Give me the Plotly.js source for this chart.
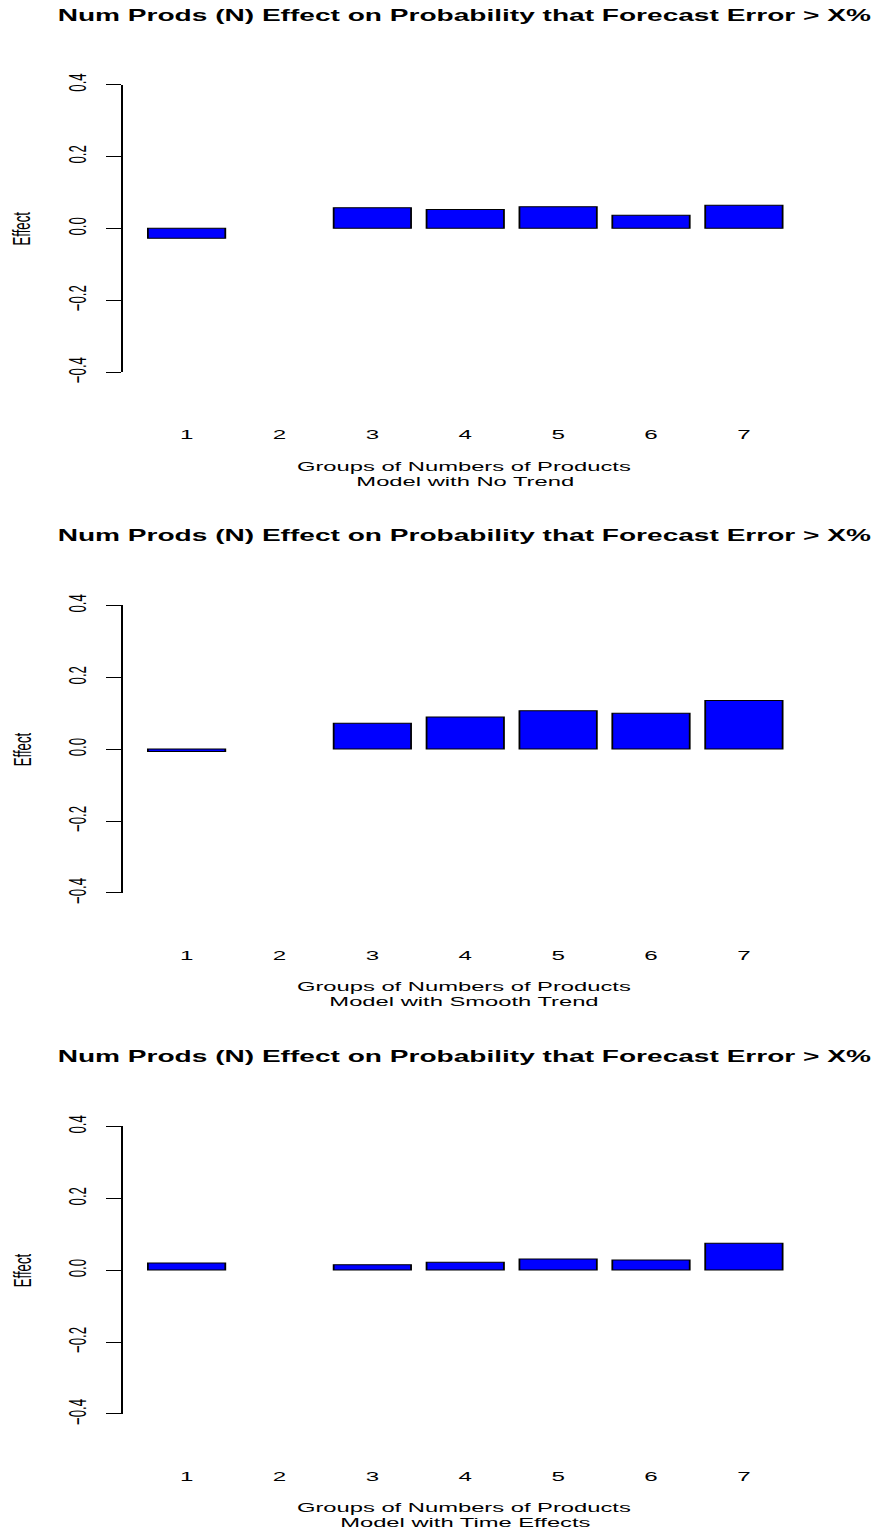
<!DOCTYPE html>
<html>
<head>
<meta charset="utf-8">
<script src="https://cdn.plot.ly/plotly-3.0.1.min.js"></script>
<style>
  html, body { margin: 0; padding: 0; background: #ffffff; overflow: hidden; }
  #wrap { width: 875px; height: 1538px; overflow: hidden; }
  /* the figure is laid out narrow and widened, giving the wide lettering of the plot */
  #chart { width: 486px; height: 1538px; transform: scaleX(1.8); transform-origin: 0 0; }
</style>
</head>
<body>
<div id="wrap"><div id="chart"></div></div>
<script>
// Groups of numbers of products (group 2 has no estimate)
const groups = [1, 2, 3, 4, 5, 6, 7];
const groupLabels = ['1', '2', '3', '4', '5', '6', '7'];

// Estimated effect of group on P(forecast error > X%) for each model
const effectNoTrend     = [-0.028, null, 0.057, 0.052, 0.060, 0.036, 0.064];
const effectSmoothTrend = [-0.007, null, 0.072, 0.089, 0.107, 0.100, 0.135];
const effectTimeEffects = [ 0.020, null, 0.015, 0.022, 0.031, 0.028, 0.075];

const modelNames = ['Model with No Trend', 'Model with Smooth Trend', 'Model with Time Effects'];
const seriesList = [effectNoTrend, effectSmoothTrend, effectTimeEffects];

const yTicks = [-0.4, -0.2, 0.0, 0.2, 0.4];
const mainTitle = 'Num Prods (N) Effect on Probability that Forecast Error &gt; X%';
const xTitle = 'Groups of Numbers of Products';
const yTitle = 'Effect';

// ---- page geometry (pixels of the narrow layout, before widening) ----
const W = 486, H = 1538, STRETCH = 1.8;
const px = x => x / STRETCH / W;          // page x -> paper x
const py = y => 1 - y / H;                // page y -> paper y
const FONT = 'Liberation Sans, Arial, Helvetica, sans-serif';

const panelTop = [84.5, 605.3, 1126.3];   // y of the 0.4 tick in each panel
const axisSpan = 287.6;                   // 0.4 .. -0.4
const xDomain = [px(122.5), px(808)];
const midX = px(465);

const data = [];
const layout = {
  width: W, height: H,
  margin: { l: 0, r: 0, t: 0, b: 0 },
  paper_bgcolor: '#ffffff', plot_bgcolor: '#ffffff',
  showlegend: false,
  font: { family: FONT, color: '#000000', size: 13.2 },
  annotations: []
};

seriesList.forEach((vals, i) => {
  const n = i === 0 ? '' : String(i + 1);
  const top = panelTop[i];
  data.push({
    type: 'bar', x: groups, y: vals,
    xaxis: 'x' + n, yaxis: 'y' + n,
    width: 1 / 1.2,
    marker: { color: '#0000ff', line: { color: '#000000', width: 1 } },
    hoverinfo: 'skip'
  });
  layout['xaxis' + n] = {
    domain: xDomain, range: [0.31, 7.69],
    anchor: 'free', position: py(top + 340),
    showline: false, ticks: '', showgrid: false, zeroline: false,
    tickvals: groups, ticktext: groupLabels,
    tickfont: { family: FONT, size: 13.4, color: '#000000' },
    fixedrange: true
  };
  layout['yaxis' + n] = {
    domain: [py(top + axisSpan), py(top)], range: [-0.4, 0.4],
    anchor: 'x' + n,
    showline: true, linecolor: '#000000', linewidth: 1,
    ticks: 'outside', ticklen: 8, tickwidth: 1, tickcolor: '#000000',
    tickvals: yTicks, tickformat: '.1f', tickangle: -90,
    ticklabelstandoff: 6,
    tickfont: { family: FONT, size: 13.2, color: '#000000' },
    showgrid: false, zeroline: false, fixedrange: true
  };
  const ann = (text, x, y, extra) => Object.assign({
    text, x, y, xref: 'paper', yref: 'paper', showarrow: false,
    xanchor: 'center', yanchor: 'middle',
    font: { family: FONT, size: 13.2, color: '#000000' }
  }, extra || {});
  layout.annotations.push(
    ann(mainTitle, midX, py(top - 69.5), { font: { family: FONT, size: 15.6, color: '#000000', weight: 'bold' } }),
    ann(xTitle, midX, py(top + 381.5)),
    ann(modelNames[i], midX, py(top + 396.5)),
    ann(yTitle, px(22), py(top + 143.8), { textangle: -90 })
  );
});

Plotly.newPlot('chart', data, layout, { staticPlot: true, displayModeBar: false });
</script>
</body>
</html>
